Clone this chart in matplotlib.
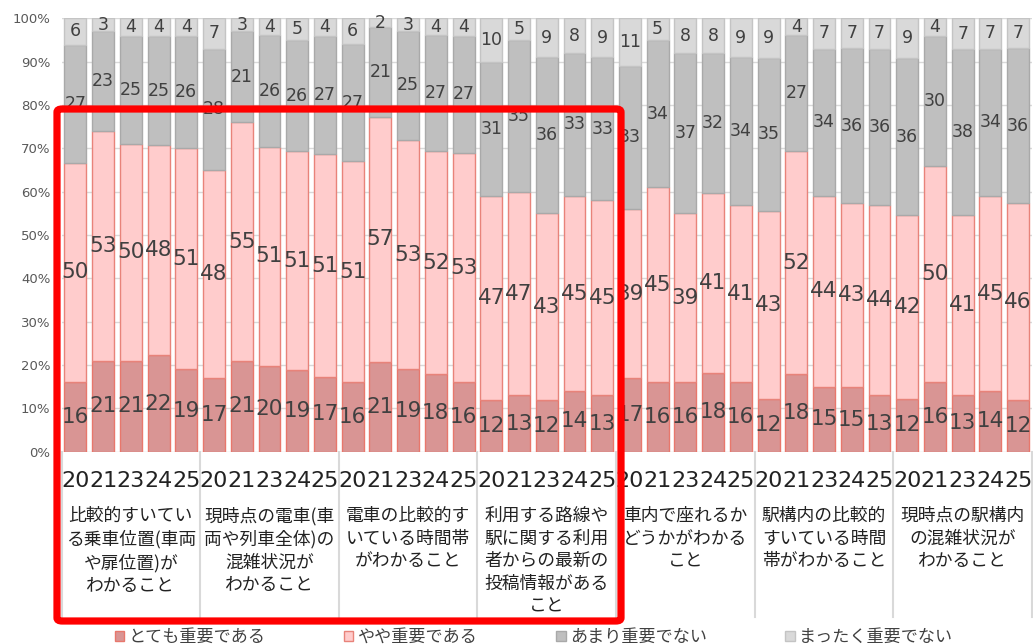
import numpy as np
import matplotlib.pyplot as plt
from matplotlib.patches import Patch, FancyBboxPatch
from matplotlib.transforms import blended_transform_factory

plt.rcParams['font.family'] = ['Noto Sans CJK JP', 'DejaVu Sans']

years = ['20', '21', '23', '24', '25']
items = [
    '比較的すいてい\nる乗車位置(車両\nや扉位置)が\nわかること',
    '現時点の電車(車\n両や列車全体)の\n混雑状況が\nわかること',
    '電車の比較的す\nいている時間帯\nがわかること',
    '利用する路線や\n駅に関する利用\n者からの最新の\n投稿情報がある\nこと',
    '車内で座れるか\nどうかがわかる\nこと',
    '駅構内の比較的\nすいている時間\n帯がわかること',
    '現時点の駅構内\nの混雑状況が\nわかること',
]
legend_labels = ['とても重要である', 'やや重要である', 'あまり重要でない', 'まったく重要でない']

# percentages per item, 5 survey years each
very = [16, 21, 21, 22, 19,  17, 21, 20, 19, 17,  16, 21, 19, 18, 16,
        12, 13, 12, 14, 13,  17, 16, 16, 18, 16,  12, 18, 15, 15, 13,
        12, 16, 13, 14, 12]
somewhat = [50, 53, 50, 48, 51,  48, 55, 51, 51, 51,  51, 57, 53, 52, 53,
            47, 47, 43, 45, 45,  39, 45, 39, 41, 41,  43, 52, 44, 43, 44,
            42, 50, 41, 45, 46]
not_much = [27, 23, 25, 25, 26,  28, 21, 26, 26, 27,  27, 21, 25, 27, 27,
            31, 35, 36, 33, 33,  33, 34, 37, 32, 34,  35, 27, 34, 36, 36,
            36, 30, 38, 34, 36]
not_at_all = [6, 3, 4, 4, 4,  7, 3, 4, 5, 4,  6, 2, 3, 4, 4,
              10, 5, 9, 8, 9,  11, 5, 8, 8, 9,  9, 4, 7, 7, 7,
              9, 4, 7, 7, 7]

series = [very, somewhat, not_much, not_at_all]
fills = ['#d99594', '#ffcccc', '#bfbfbf', '#d9d9d9']
edges = ['#e8776c', '#e8837a', '#a9a9a9', '#c4c4c4']
label_sizes = [15.5, 15.5, 12.5, 12.5]

vals = np.array(series, dtype=float)
share = vals / vals.sum(axis=0) * 100  # 100% stacked
x = np.arange(vals.shape[1])

fig = plt.figure(figsize=(10.33, 6.44), dpi=100)
ax = fig.add_axes([61.5 / 1033, 1 - 451.7 / 644, 970.5 / 1033, 433.4 / 644])

bottom = np.zeros(len(x))
for i in range(4):
    bars = ax.bar(x, share[i], 0.79, bottom=bottom, color=fills[i],
                  edgecolor=edges[i], linewidth=1.0, zorder=2)
    ax.bar_label(bars, labels=[str(v) for v in series[i]], label_type='center',
                 fontsize=label_sizes[i], color='#404040', family='DejaVu Sans')
    bottom += share[i]

ax.set_xlim(-0.5, len(x) - 0.5)
ax.set_ylim(0, 100)
ax.set_yticks(np.arange(0, 101, 10))
ax.set_yticklabels([f'{v}%' for v in range(0, 101, 10)], fontsize=9.5,
                   color='#595959', family='DejaVu Sans')
ax.yaxis.grid(True, color='#d9d9d9', linewidth=1.0, zorder=0)
ax.set_axisbelow(True)
ax.tick_params(axis='y', length=0, pad=8)
for s in ax.spines.values():
    s.set_visible(False)

ax.set_xticks(x)
ax.set_xticklabels(years * len(items), fontsize=16, color='#222222',
                   family='DejaVu Sans')
ax.tick_params(axis='x', length=0, pad=14)

trans = blended_transform_factory(ax.transData, ax.transAxes)
for g, name in enumerate(items):
    ax.text(g * 5 + 2, -0.127, name, transform=trans, ha='center', va='top',
            fontsize=12.8, linespacing=1.34, color='#222222')
for g in range(len(items) + 1):
    ax.plot([g * 5 - 0.5] * 2, [0, -0.381], transform=trans, color='#d9d9d9',
            linewidth=1.5, clip_on=False)

handles = [Patch(facecolor=fills[i], edgecolor=edges[i]) for i in range(4)]
fig.legend(handles, legend_labels, loc='center', bbox_to_anchor=(0.517, 0.011),
           ncol=4, frameon=False, fontsize=12.3, handlelength=0.55,
           handleheight=0.55, handletextpad=0.25, columnspacing=4.6,
           labelcolor='#404040')

# highlight box around the first four items
box = FancyBboxPatch((57 / 1033, 1 - 621 / 644), 564 / 1033, 512 / 644,
                     boxstyle='round,pad=0,rounding_size=0.005',
                     transform=fig.transFigure, fill=False, edgecolor='#ff0000',
                     linewidth=5.2, zorder=10)
fig.patches.append(box)

fig.savefig('out.png', dpi=100)
